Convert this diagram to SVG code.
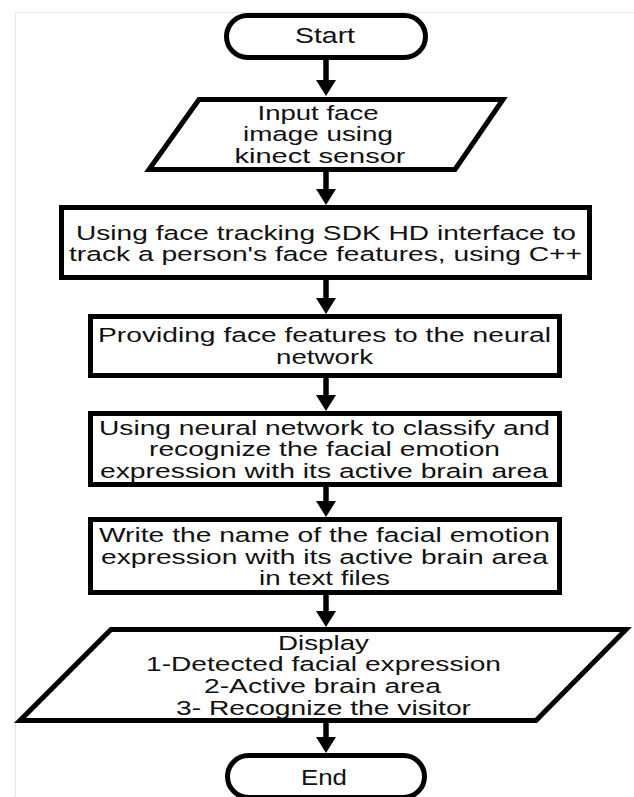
<svg xmlns="http://www.w3.org/2000/svg" width="634" height="797" viewBox="0 0 634 797">
<style>
.shape{fill:#fff;stroke:#000;stroke-width:5;stroke-linejoin:miter}
.t{font-family:"Liberation Sans",Arial,sans-serif;font-size:20.5px;fill:#111;text-anchor:middle}
.big{font-size:22px}
.conn{stroke:#000;stroke-width:5.5;fill:none}
.frame{stroke:#e6e6e6;stroke-width:1;fill:none}
</style>
<defs>
<marker id="ah" markerUnits="userSpaceOnUse" markerWidth="18" markerHeight="22" refX="2" refY="11" orient="auto" viewBox="0 0 18 22">
<path d="M0,1 L16,11 L0,21 z" fill="#000"/>
</marker>
</defs>
<rect width="634" height="797" fill="#fff"/>
<path class="frame" d="M15.5,797 V12.5 H634"/>
<g id="connectors">
<line class="conn" x1="326" y1="60" x2="326" y2="82" marker-end="url(#ah)"/>
<line class="conn" x1="326" y1="170" x2="326" y2="191" marker-end="url(#ah)"/>
<line class="conn" x1="326" y1="280" x2="326" y2="300" marker-end="url(#ah)"/>
<line class="conn" x1="326" y1="378" x2="326" y2="397" marker-end="url(#ah)"/>
<line class="conn" x1="326" y1="487" x2="326" y2="503" marker-end="url(#ah)"/>
<line class="conn" x1="326" y1="595" x2="326" y2="613" marker-end="url(#ah)"/>
<line class="conn" x1="326" y1="723" x2="326" y2="739" marker-end="url(#ah)"/>
</g>
<g id="start">
<rect class="shape" x="226.5" y="15.5" width="199" height="42" rx="21"/>
<text class="t big" x="325" y="43" textLength="60" lengthAdjust="spacingAndGlyphs">Start</text>
</g>
<g id="input">
<polygon class="shape" points="199,99.5 503,99.5 455,169.5 149,169.5"/>
<text class="t" x="318" y="119.5" textLength="121" lengthAdjust="spacingAndGlyphs">Input face</text>
<text class="t" x="318" y="140.5" textLength="150" lengthAdjust="spacingAndGlyphs">image using</text>
<text class="t" x="320" y="162.5" textLength="171" lengthAdjust="spacingAndGlyphs">kinect sensor</text>
</g>
<g id="tracking">
<rect class="shape" x="61.5" y="207.5" width="528" height="70"/>
<text class="t" x="326" y="239.5" textLength="500" lengthAdjust="spacingAndGlyphs">Using face tracking SDK HD interface to</text>
<text class="t" x="325.5" y="260.5" textLength="513" lengthAdjust="spacingAndGlyphs">track a person's face features, using C++</text>
</g>
<g id="providing">
<rect class="shape" x="90.5" y="316.5" width="469" height="59"/>
<text class="t" x="324.5" y="341.5" textLength="453" lengthAdjust="spacingAndGlyphs">Providing face features to the neural</text>
<text class="t" x="324.5" y="363.5" textLength="97" lengthAdjust="spacingAndGlyphs">network</text>
</g>
<g id="classify">
<rect class="shape" x="90.5" y="413.5" width="469" height="71"/>
<text class="t" x="324.5" y="434.5" textLength="451" lengthAdjust="spacingAndGlyphs">Using neural network to classify and</text>
<text class="t" x="324.5" y="455.5" textLength="351" lengthAdjust="spacingAndGlyphs">recognize the facial emotion</text>
<text class="t" x="324" y="477.5" textLength="448" lengthAdjust="spacingAndGlyphs">expression with its active brain area</text>
</g>
<g id="write">
<rect class="shape" x="90.5" y="519.5" width="469" height="73"/>
<text class="t" x="324.5" y="541.5" textLength="451" lengthAdjust="spacingAndGlyphs">Write the name of the facial emotion</text>
<text class="t" x="324.5" y="563.5" textLength="447" lengthAdjust="spacingAndGlyphs">expression with its active brain area</text>
<text class="t" x="324.5" y="584.5" textLength="131" lengthAdjust="spacingAndGlyphs">in text files</text>
</g>
<g id="display">
<polygon class="shape" points="111,629.5 626,629.5 536,720.5 20,720.5"/>
<text class="t" x="323.5" y="649.5" textLength="91" lengthAdjust="spacingAndGlyphs">Display</text>
<text class="t" x="323.5" y="670.5" textLength="355" lengthAdjust="spacingAndGlyphs">1-Detected facial expression</text>
<text class="t" x="322.5" y="692.5" textLength="237" lengthAdjust="spacingAndGlyphs">2-Active brain area</text>
<text class="t" x="323.5" y="714.5" textLength="295" lengthAdjust="spacingAndGlyphs">3- Recognize the visitor</text>
</g>
<g id="end">
<rect class="shape" x="227.5" y="755.5" width="197" height="42" rx="21"/>
<text class="t big" x="324" y="785" textLength="46" lengthAdjust="spacingAndGlyphs">End</text>
</g>
</svg>
